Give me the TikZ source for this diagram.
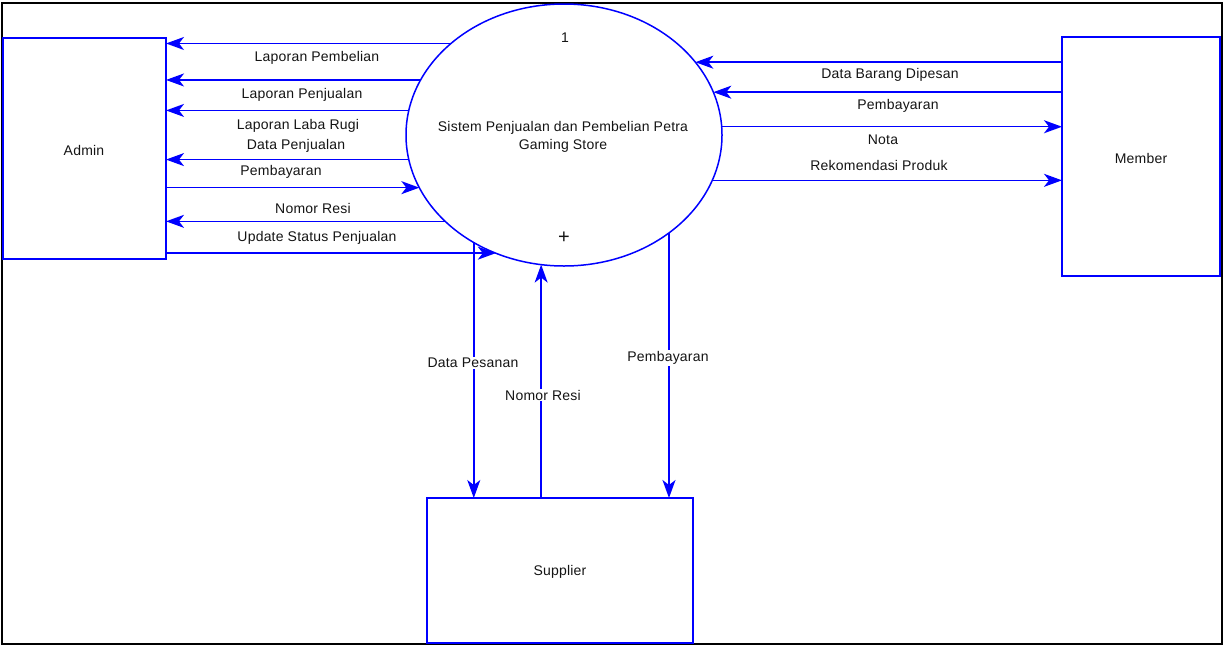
\documentclass[tikz,border=0pt]{standalone}
\usepackage{fontspec}
\setmainfont{Liberation Sans}[LetterSpace=1.5]
\usetikzlibrary{arrows.meta,shapes.geometric}
\definecolor{flowblue}{RGB}{0,0,255}
\definecolor{txt}{RGB}{20,20,20}
\begin{document}
\begin{tikzpicture}[x=1pt,y=-1pt,
  every node/.style={font=\fontsize{14}{17}\selectfont, text=txt},
  entity/.style={draw=flowblue, line width=1.5pt, rectangle, inner sep=0pt, outer sep=0pt},
  proc/.style={draw=flowblue, line width=1.5pt, ellipse, inner sep=0pt, outer sep=0pt, minimum width=316pt, minimum height=262pt},
  flow/.style={draw=flowblue, line width=1.5pt, -{Stealth[length=18pt,width=13pt,inset=5pt]}},
  lbl/.style={inner sep=1pt},
  wlbl/.style={inner sep=1pt, fill=white}
]
\useasboundingbox (0,0) rectangle (1225,646);
\draw[line width=2pt, black] (2,3) rectangle (1222,644);

% nodes
\node[entity, minimum width=163pt, minimum height=221pt] (admin) at (84.5,148.5) {};
\node[entity, minimum width=158pt, minimum height=239pt] (member) at (1141,156.5) {};
\node[entity, minimum width=266pt, minimum height=145pt] (sup) at (560,570.5) {};
\node[proc] (E) at (564,135) {};

\node (adminlbl) at (84,150) {Admin};
\node (memberlbl) at (1141,158) {Member};
\node (suplbl) at (560,572) {Supplier};
\node (num) at (565,38) {1};
\node[font=\fontsize{20}{20}\selectfont] (plus) at (564,238) {+};
\node (t1) at (563,128) {Sistem Penjualan dan Pembelian Petra};
\node (t2) at (563,146) {Gaming Store};

% left flows
\draw[flow] (E.141.3) -- (E.141.3 -| admin.east);
\draw[flow] (E.159.4) -- (E.159.4 -| admin.east);
\draw[flow] (E.171.2) -- (E.171.2 -| admin.east);
\draw[flow] (E.189.9) -- (E.189.9 -| admin.east);
\draw[flow] (E.200.6 -| admin.east) -- (E.200.6);
\draw[flow] (E.216.9) -- (E.216.9 -| admin.east);
\draw[flow] (E.240.9 -| admin.east) -- (E.240.9);

% right flows
\draw[flow] (E.29.6 -| member.west) -- (E.29.6);
\draw[flow] (E.16.1 -| member.west) -- (E.16.1);
\draw[flow] (E.3.3) -- (E.3.3 -| member.west);
\draw[flow] (E.-17.3) -- (E.-17.3 -| member.west);

% bottom flows
\draw[flow] (E.230.6) -- (E.230.6 |- sup.north);
\draw[flow] (E.260.8 |- sup.north) -- (E.260.8);
\draw[flow] (E.-43.5) -- (E.-43.5 |- sup.north);

% labels
\node[lbl] (l1) at (317,58) {Laporan Pembelian};
\node[lbl] (l2) at (302,95) {Laporan Penjualan};
\node[lbl] (l3) at (298,126) {Laporan Laba Rugi};
\node[lbl] (l4) at (296,146) {Data Penjualan};
\node[lbl] (l5) at (281,172) {Pembayaran};
\node[lbl] (l6) at (313,208) {Nomor Resi};
\node[lbl] (l7) at (317,238) {Update Status Penjualan};
\node[lbl] (r1) at (890,75) {Data Barang Dipesan};
\node[lbl] (r2) at (898,106) {Pembayaran};
\node[lbl] (r3) at (883,140) {Nota};
\node[lbl] (r4) at (879,165) {Rekomendasi Produk};
\node[wlbl] (b1) at (473,363) {Data Pesanan};
\node[wlbl] (b2) at (543,395) {Nomor Resi};
\node[wlbl] (b3) at (668,358) {Pembayaran};
\end{tikzpicture}
\end{document}
